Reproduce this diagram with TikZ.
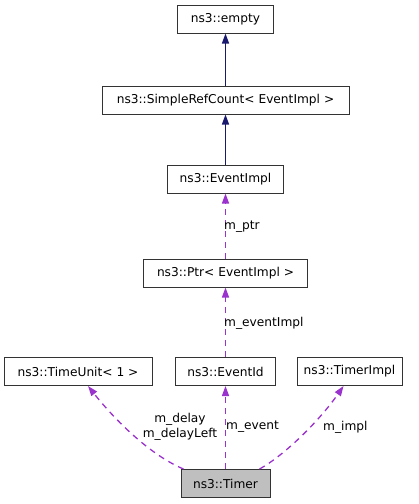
\documentclass[tikz,border=0pt]{standalone}
\usepackage{fontspec}
\setmainfont{DejaVu Sans}
\usetikzlibrary{arrows.meta}
\definecolor{inhblue}{HTML}{191970}
\definecolor{usepurple}{HTML}{9A32CD}
\tikzset{
  clsbox/.style={draw=black!80, line width=1pt, fill=white, minimum height=28pt, inner xsep=2pt, inner ysep=0pt, font=\fontsize{12.2}{14}\selectfont},
  inhedge/.style={color=inhblue, line width=1.3pt, -{Triangle[length=10pt,width=7pt]}},
  useedge/.style={color=usepurple, line width=1.3pt, dash pattern=on 6pt off 5pt, -{Triangle[length=10pt,width=7pt]}},
  edgelbl/.style={font=\fontsize{12.2}{15}\selectfont, inner sep=0pt}
}

\begin{document}
\begin{tikzpicture}[x=1pt,y=-1pt]
      \useasboundingbox (0,0) rectangle (419,504);
      \node[clsbox, minimum width=96pt] (empty) at (225.5,19) {ns3::empty};
      \node[clsbox, minimum width=247pt] (simple) at (225.5,100) {ns3::SimpleRefCount< EventImpl >};
      \node[clsbox, minimum width=116pt] (eventimpl) at (225.5,179) {ns3::EventImpl};
      \node[clsbox, minimum width=164pt] (ptr) at (225.5,273) {ns3::Ptr< EventImpl >};
      \node[clsbox, minimum width=148pt] (timeunit) at (78,371.5) {ns3::TimeUnit< 1 >};
      \node[clsbox, minimum width=100pt] (eventid) at (225.5,371.5) {ns3::EventId};
      \node[clsbox, minimum width=105pt] (timerimpl) at (349.5,371.5) {ns3::TimerImpl};
      \node[clsbox, minimum width=89pt, fill=black!25] (timer) at (225.5,483.5) {ns3::Timer};
      \draw[inhedge] (simple) -- (empty);
      \draw[inhedge] (eventimpl) -- (simple);
      \draw[useedge] (ptr) -- (eventimpl);
      \draw[useedge] (eventid) -- (ptr);
      \draw[useedge] (timer) -- (eventid);
      \draw[useedge] ([xshift=3pt]timer.north west) .. controls (150,455) and (115,420) .. ([xshift=10pt]timeunit.south);
      \draw[useedge] ([xshift=-11pt]timer.north east) .. controls (285,455) and (320,420) .. ([xshift=-6pt]timerimpl.south);
      \node[edgelbl, anchor=west] (lptr) at (224,227) {m\_ptr};
      \node[edgelbl, anchor=west] (leventimpl) at (224,323) {m\_eventImpl};
      \node[edgelbl, align=center] (ldelay) at (180,426.5) {m\_delay\\m\_delayLeft};
      \node[edgelbl, anchor=west] (levent) at (226,427) {m\_event};
      \node[edgelbl, anchor=west] (limpl) at (323,427) {m\_impl};
    \end{tikzpicture}
\end{document}
